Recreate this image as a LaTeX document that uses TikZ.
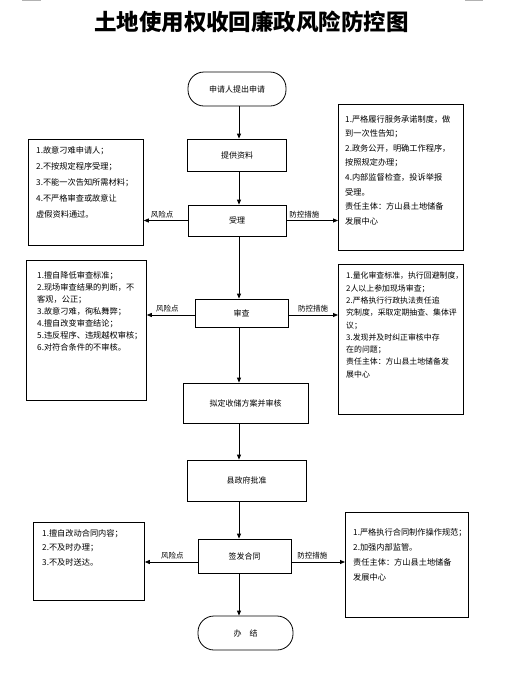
\documentclass[tikz,border=0pt]{standalone}
\usepackage{fontspec}
\setmainfont{Noto Sans CJK SC}
\usetikzlibrary{arrows.meta,positioning}

\begin{document}
\begin{tikzpicture}[x=1pt,y=-1pt,
	flow/.style={draw,line width=0.8pt,inner sep=0pt,font=\fontsize{8}{10}\selectfont},
	term/.style={flow,rounded corners=16pt},
	sidebox/.style={draw,line width=0.8pt,anchor=north west,inner sep=0pt},
	boxtxt/.style={anchor=north west,align=left,inner sep=0pt},
	arr/.style={-{Triangle[length=5pt,width=4pt]},line width=0.8pt},
	lbl/.style={above,inner sep=2pt,font=\fontsize{7.5}{9}\selectfont}]
		\useasboundingbox (0,0) rectangle (508,678);
		\draw[gray!60,line width=1pt] (22,0.5) -- (41,0.5) (465,0.5) -- (483,0.5);

		\node[font=\fontsize{22.5}{26}\selectfont\bfseries] (title) at (251.5,22) {土地使用权收回廉政风险防控图};

		\node[term,minimum width=98pt,minimum height=34pt] (apply) at (237,89) {申请人提出申请};
		\node[flow,minimum width=99pt,minimum height=32pt] (tigong) at (237,155) {提供资料};
		\node[flow,minimum width=98pt,minimum height=31pt] (shouli) at (237,220.5) {受理};
		\node[flow,minimum width=93pt,minimum height=28pt] (shencha) at (241.5,313) {审查};
		\node[flow,minimum width=125pt,minimum height=40pt] (niding) at (245.5,403) {拟定收储方案并审核};
		\node[flow,minimum width=119pt,minimum height=41pt] (pizhun) at (246.5,480.5) {县政府批准};
		\node[flow,minimum width=93pt,minimum height=34pt] (qianfa) at (244.5,556) {签发合同};
		\node[term,minimum width=95pt,minimum height=34pt] (banjie) at (245.5,633) {办\quad 结};

		\node[sidebox,minimum width=115pt,minimum height=106pt] (risk1) at (28,139) {};
		\node[boxtxt,font=\fontsize{8.2}{16}\selectfont] (risk1t) at ([shift={(8,7)}]risk1.north west)
			{1.故意刁难申请人；\\2.不按规定程序受理；\\3.不能一次告知所需材料；\\4.不严格审查或故意让\\虚假资料通过。};
		\node[sidebox,minimum width=125pt,minimum height=146pt] (ctrl1) at (338,104) {};
		\node[boxtxt,font=\fontsize{8.2}{14.6}\selectfont] (ctrl1t) at ([shift={(7,11)}]ctrl1.north west)
			{1.严格履行服务承诺制度，做\\到一次性告知；\\2.政务公开，明确工作程序，\\按照规定办理；\\4.内部监督检查，投诉举报\\受理。\\责任主体：方山县土地储备\\发展中心};

		\node[sidebox,minimum width=120pt,minimum height=140pt] (risk2) at (26,260) {};
		\node[boxtxt,font=\fontsize{8.2}{12}\selectfont] (risk2t) at ([shift={(11,11)}]risk2.north west)
			{1.擅自降低审查标准；\\2.现场审查结果的判断，不\\客观，公正；\\3.故意刁难，徇私舞弊；\\4.擅自改变审查结论；\\5.违反程序、违规越权审核；\\6.对符合条件的不审核。};
		\node[sidebox,minimum width=125pt,minimum height=150pt] (ctrl2) at (338,264) {};
		\node[boxtxt,font=\fontsize{7.9}{12.3}\selectfont] (ctrl2t) at ([shift={(8,8)}]ctrl2.north west)
			{1.量化审查标准，执行回避制度，\\2人以上参加现场审查；\\2.严格执行行政执法责任追\\究制度，采取定期抽查、集体评\\议；\\3.发现并及时纠正审核中存\\在的问题；\\责任主体：方山县土地储备发\\展中心};

		\node[sidebox,minimum width=111pt,minimum height=78pt] (risk3) at (33,522) {};
		\node[boxtxt,font=\fontsize{8.2}{14.5}\selectfont] (risk3t) at ([shift={(9,7)}]risk3.north west)
			{1.擅自改动合同内容；\\2.不及时办理；\\3.不及时送达。};
		\node[sidebox,minimum width=123pt,minimum height=105pt] (ctrl3) at (345,512) {};
		\node[boxtxt,font=\fontsize{8.2}{15}\selectfont] (ctrl3t) at ([shift={(8,16)}]ctrl3.north west)
			{1.严格执行合同制作操作规范；\\2.加强内部监管。\\责任主体：方山县土地储备\\发展中心};

		\coordinate (axis) at (239,0);
		\foreach \a/\b in {apply/tigong,tigong/shouli,shouli/shencha,shencha/niding,niding/pizhun,pizhun/qianfa,qianfa/banjie}
			\draw[arr] (\a.south -| axis) -- (\b.north -| axis);

		\draw[arr] (shouli.west) -- node[lbl,pos=0.58] {风险点} (shouli.west -| risk1.east);
		\draw[arr] (shouli.east) -- node[lbl,pos=0.35] {防控措施} (shouli.east -| ctrl1.west);
		\draw[arr] ([yshift=-2pt]shencha.west) -- node[lbl,pos=0.57] {风险点} ([yshift=-2pt]shencha.west -| risk2.east);
		\draw[arr] ([yshift=-2pt]shencha.east) -- node[lbl,pos=0.5] {防控措施} ([yshift=-2pt]shencha.east -| ctrl2.west);
		\draw[arr] ([yshift=-6pt]qianfa.west) -- node[lbl,pos=0.48] {风险点} ([yshift=-6pt]qianfa.west -| risk3.east);
		\draw[arr] ([yshift=-6pt]qianfa.east) -- node[lbl,pos=0.39] {防控措施} ([yshift=-6pt]qianfa.east -| ctrl3.west);
	\end{tikzpicture}
\end{document}
